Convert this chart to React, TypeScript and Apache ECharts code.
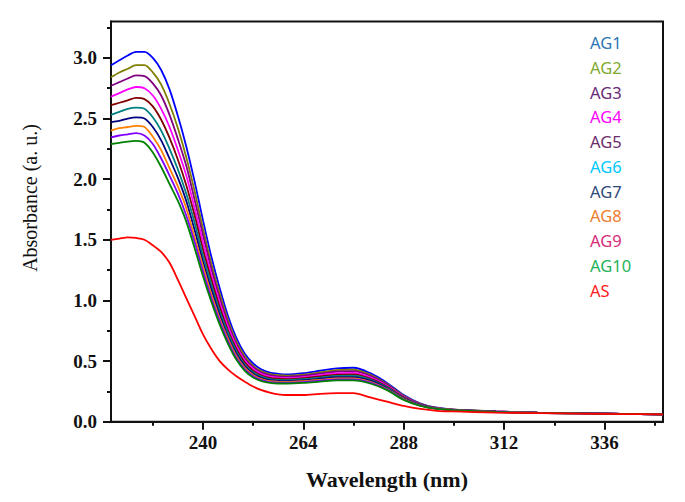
import React, { useEffect, useRef } from "react";
import * as echarts from "echarts";

const wavelengths = [218,220,222,224,226,228,230,232,234,236,238,240,242,244,246,248,250,252,254,256,258,260,264,268,272,276,280,284,288,292,296,300,310,320,330,340,350];

const ag1 = [2.94,2.98,3.02,3.05,3.05,3.00,2.90,2.74,2.52,2.27,1.98,1.66,1.36,1.10,0.87,0.69,0.56,0.48,0.43,0.405,0.395,0.39,0.40,0.42,0.44,0.445,0.40,0.32,0.22,0.15,0.115,0.10,0.085,0.075,0.07,0.065,0.06];
const ag2 = [2.84,2.88,2.91,2.94,2.94,2.88,2.78,2.62,2.42,2.18,1.90,1.59,1.30,1.055,0.835,0.66,0.54,0.46,0.416,0.392,0.383,0.379,0.388,0.406,0.425,0.429,0.387,0.311,0.214,0.147,0.113,0.099,0.085,0.075,0.07,0.065,0.06];
const ag3 = [2.77,2.80,2.83,2.855,2.85,2.79,2.69,2.53,2.33,2.11,1.83,1.54,1.26,1.02,0.81,0.64,0.52,0.45,0.405,0.383,0.374,0.37,0.379,0.396,0.414,0.417,0.378,0.304,0.209,0.145,0.112,0.099,0.084,0.075,0.07,0.065,0.06];
const ag4 = [2.68,2.71,2.74,2.76,2.75,2.69,2.58,2.43,2.24,2.03,1.76,1.48,1.21,0.98,0.78,0.62,0.505,0.435,0.392,0.371,0.363,0.36,0.368,0.384,0.40,0.403,0.366,0.296,0.204,0.142,0.111,0.098,0.084,0.074,0.07,0.065,0.06];
const ag5 = [2.61,2.63,2.65,2.67,2.66,2.60,2.49,2.34,2.16,1.95,1.70,1.42,1.17,0.945,0.75,0.60,0.488,0.421,0.381,0.361,0.354,0.351,0.359,0.374,0.389,0.391,0.356,0.289,0.199,0.14,0.11,0.097,0.083,0.074,0.069,0.065,0.06];
const ag6 = [2.53,2.555,2.58,2.59,2.58,2.51,2.40,2.25,2.08,1.88,1.64,1.37,1.13,0.91,0.73,0.58,0.47,0.408,0.371,0.352,0.345,0.343,0.35,0.364,0.378,0.379,0.347,0.283,0.195,0.138,0.109,0.097,0.083,0.074,0.069,0.064,0.06];
const ag7 = [2.47,2.48,2.50,2.51,2.50,2.43,2.32,2.17,2.01,1.82,1.58,1.32,1.09,0.88,0.70,0.56,0.458,0.396,0.361,0.343,0.337,0.335,0.342,0.354,0.367,0.368,0.338,0.276,0.191,0.135,0.108,0.096,0.082,0.073,0.069,0.064,0.06];
const ag8 = [2.40,2.42,2.43,2.44,2.43,2.35,2.24,2.09,1.94,1.76,1.52,1.28,1.05,0.85,0.68,0.54,0.444,0.385,0.351,0.334,0.329,0.328,0.334,0.345,0.357,0.358,0.329,0.27,0.187,0.133,0.107,0.096,0.081,0.073,0.068,0.064,0.06];
const ag9 = [2.345,2.36,2.37,2.38,2.36,2.29,2.17,2.03,1.88,1.70,1.48,1.24,1.02,0.83,0.66,0.525,0.432,0.375,0.343,0.327,0.322,0.321,0.327,0.338,0.349,0.349,0.322,0.265,0.183,0.132,0.106,0.095,0.08,0.072,0.068,0.064,0.06];
const ag10 = [2.29,2.30,2.31,2.315,2.30,2.22,2.10,1.96,1.82,1.65,1.43,1.20,0.99,0.80,0.64,0.51,0.42,0.365,0.335,0.32,0.315,0.315,0.32,0.33,0.34,0.34,0.315,0.26,0.18,0.13,0.105,0.095,0.08,0.072,0.068,0.064,0.06];
const as = [1.50,1.51,1.52,1.515,1.50,1.455,1.40,1.31,1.17,1.02,0.87,0.72,0.60,0.50,0.43,0.375,0.33,0.29,0.26,0.24,0.225,0.22,0.22,0.23,0.235,0.235,0.20,0.165,0.13,0.105,0.09,0.085,0.075,0.07,0.066,0.063,0.06];

const seriesNames = ["AG1","AG2","AG3","AG4","AG5","AG6","AG7","AG8","AG9","AG10","AS"];
const seriesValues = [ag1, ag2, ag3, ag4, ag5, ag6, ag7, ag8, ag9, ag10, as];
const lineColors = ["#0000FF","#808000","#800080","#FF00FF","#800000","#008080","#000080","#FF8000","#8000FF","#008000","#FF0000"];
const legendColors = ["#2E75B6","#7FAA2E","#6A2A7A","#FF00FF","#6B2C6B","#00C8FF","#2F4A7A","#ED7D31","#D62C78","#1FB25A","#FF1A1A"];

const xMajorTicks = [240, 264, 288, 312, 336];
const xMinorTicks = [228, 252, 276, 300, 324, 348];
const yMajorTicks = [0, 0.5, 1.0, 1.5, 2.0, 2.5, 3.0];
const yMinorTicks = [0.25, 0.75, 1.25, 1.75, 2.25, 2.75, 3.25];

const SERIF = "'Liberation Serif', 'Times New Roman', serif";

export default function App() {
  const ref = useRef<HTMLDivElement>(null);
  useEffect(() => {
    if (!ref.current) return;
    const chart = echarts.init(ref.current, null, { renderer: "svg" });
    const gridL = 111, gridR = 22, gridT = 21.5, gridB = 80.3;
    const labelStyle = { fontFamily: SERIF, fontWeight: "bold" as const, fontSize: 19, color: "#111" };
    chart.setOption({
      animation: false,
      backgroundColor: "#ffffff",
      grid: { left: gridL, right: gridR, top: gridT, bottom: gridB, containLabel: false, show: true, borderColor: "#111", borderWidth: 2 },
      xAxis: [
        {
          type: "value", min: 218, max: 350, position: "bottom",
          axisLine: { show: true, lineStyle: { color: "#111", width: 2 } },
          axisTick: { show: true, inside: false, length: 8, lineStyle: { color: "#111", width: 2 }, customValues: xMajorTicks },
          axisLabel: { show: true, margin: 11, ...labelStyle, customValues: xMajorTicks },
          splitLine: { show: false },
        },
        {
          type: "value", min: 218, max: 350, position: "bottom",
          axisLine: { show: false },
          axisTick: { show: true, inside: false, length: 4, lineStyle: { color: "#111", width: 2 }, customValues: xMinorTicks },
          axisLabel: { show: false },
          splitLine: { show: false },
        },
      ],
      yAxis: [
        {
          type: "value", min: 0, max: 3.3, position: "left",
          axisLine: { show: true, lineStyle: { color: "#111", width: 2 } },
          axisTick: { show: true, inside: false, length: 8, lineStyle: { color: "#111", width: 2 }, customValues: yMajorTicks },
          axisLabel: { show: true, margin: 14, ...labelStyle, formatter: (v: number) => v.toFixed(1), customValues: yMajorTicks },
          splitLine: { show: false },
        },
        {
          type: "value", min: 0, max: 3.3, position: "left",
          axisLine: { show: false },
          axisTick: { show: true, inside: false, length: 4, lineStyle: { color: "#111", width: 2 }, customValues: yMinorTicks },
          axisLabel: { show: false },
          splitLine: { show: false },
        },
      ],
      series: seriesNames.map((name, k) => ({
        name,
        type: "line",
        xAxisIndex: 0,
        yAxisIndex: 0,
        showSymbol: false,
        symbol: "none",
        smooth: 0.3,
        lineStyle: { color: lineColors[k], width: 1.8 },
        itemStyle: { color: lineColors[k] },
        data: wavelengths.map((w, i) => [w, seriesValues[k][i]]),
      })),
      graphic: [
        ...seriesNames.map((name, k) => ({
          type: "text",
          left: 590,
          top: 45 + k * 24.75 - 11,
          style: { text: name, fill: legendColors[k], font: "16.5px 'Noto Sans', 'Open Sans', sans-serif" },
        })),
        {
          type: "text",
          x: 30, y: 198, rotation: Math.PI / 2,
          style: { text: "Absorbance (a. u.)", fill: "#111", font: `20px ${SERIF}`, align: "center", verticalAlign: "middle" },
        },
        {
          type: "text",
          x: 387, y: 479,
          style: { text: "Wavelength (nm)", fill: "#111", font: `bold 22px ${SERIF}`, align: "center", verticalAlign: "middle" },
        },
      ],
    });
    return () => chart.dispose();
  }, []);
  return <div ref={ref} style={{ position: "fixed", left: 0, top: 0, width: 685, height: 502 }} />;
}
